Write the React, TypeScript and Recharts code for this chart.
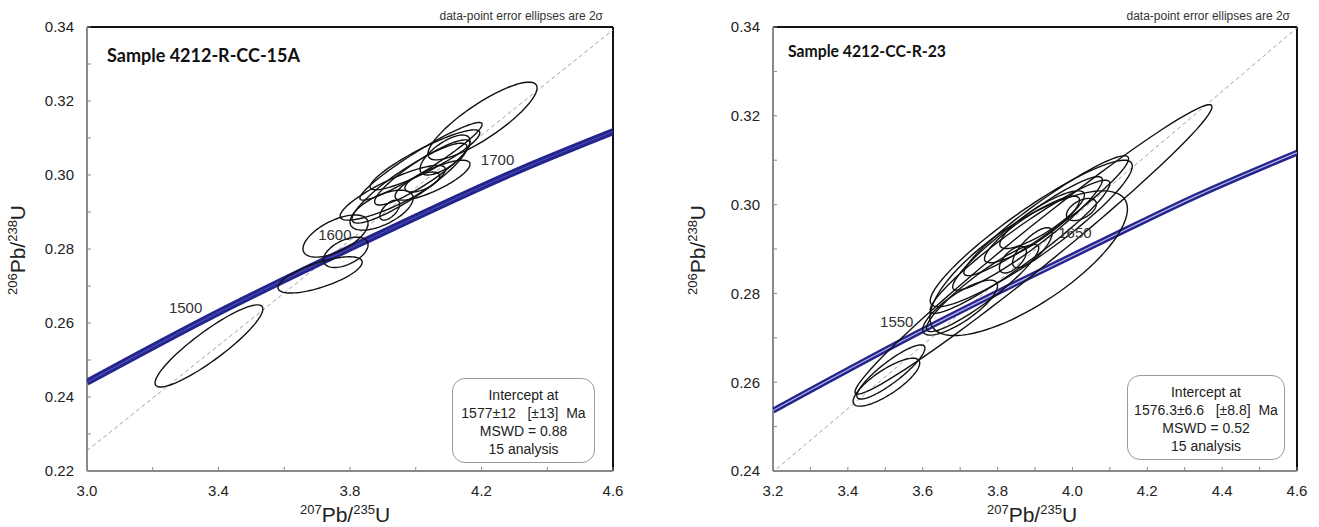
import React from "react";
import {
  ScatterChart,
  Scatter,
  XAxis,
  YAxis,
  ReferenceLine,
} from "recharts";

// error ellipses: centre, 2-sigma half widths, error correlation
type Ell = { x: number; y: number; sx: number; sy: number; rho: number };

const leftEllipses: Ell[] = [
  { x: 3.371, y: 0.2538, sx: 0.164, sy: 0.0111, rho: 0.9 },
  { x: 3.709, y: 0.273, sx: 0.128, sy: 0.0049, rho: 0.7 },
  { x: 3.756, y: 0.2835, sx: 0.099, sy: 0.0057, rho: 0.6 },
  { x: 3.787, y: 0.2791, sx: 0.068, sy: 0.0041, rho: 0.5 },
  { x: 3.896, y: 0.2905, sx: 0.096, sy: 0.0054, rho: 0.6 },
  { x: 3.981, y: 0.2978, sx: 0.175, sy: 0.0108, rho: 0.9 },
  { x: 4.203, y: 0.3146, sx: 0.166, sy: 0.0105, rho: 0.85 },
  { x: 4.016, y: 0.3037, sx: 0.186, sy: 0.0105, rho: 0.95 },
  { x: 4.028, y: 0.3041, sx: 0.167, sy: 0.0081, rho: 0.9 },
  { x: 4.02, y: 0.3007, sx: 0.145, sy: 0.0088, rho: 0.9 },
  { x: 3.921, y: 0.2905, sx: 0.03, sy: 0.0027, rho: 0.6 },
  { x: 4.02, y: 0.2981, sx: 0.053, sy: 0.0027, rho: 0.6 },
  { x: 3.93, y: 0.2952, sx: 0.16, sy: 0.0074, rho: 0.85 },
  { x: 4.051, y: 0.2986, sx: 0.114, sy: 0.0054, rho: 0.8 },
  { x: 4.089, y: 0.3054, sx: 0.076, sy: 0.0054, rho: 0.7 },
];

const rightEllipses: Ell[] = [
  { x: 3.503, y: 0.26, sx: 0.089, sy: 0.0054, rho: 0.8 },
  { x: 3.515, y: 0.2623, sx: 0.091, sy: 0.0061, rho: 0.88 },
  { x: 3.896, y: 0.2899, sx: 0.477, sy: 0.0326, rho: 0.985 },
  { x: 3.883, y: 0.2868, sx: 0.264, sy: 0.0163, rho: 0.75 },
  { x: 3.89, y: 0.2935, sx: 0.27, sy: 0.0165, rho: 0.92 },
  { x: 3.86, y: 0.2905, sx: 0.24, sy: 0.015, rho: 0.95 },
  { x: 3.7, y: 0.2768, sx: 0.1, sy: 0.0062, rho: 0.8 },
  { x: 3.76, y: 0.2812, sx: 0.15, sy: 0.0098, rho: 0.92 },
  { x: 3.841, y: 0.2876, sx: 0.036, sy: 0.003, rho: 0.6 },
  { x: 3.893, y: 0.2903, sx: 0.053, sy: 0.0045, rho: 0.75 },
  { x: 4.024, y: 0.2989, sx: 0.04, sy: 0.0025, rho: 0.5 },
  { x: 3.93, y: 0.2975, sx: 0.22, sy: 0.0135, rho: 0.95 },
  { x: 3.88, y: 0.2935, sx: 0.2, sy: 0.0128, rho: 0.94 },
  { x: 3.892, y: 0.2944, sx: 0.127, sy: 0.0075, rho: 0.88 },
  { x: 3.919, y: 0.2966, sx: 0.113, sy: 0.0065, rho: 0.85 },
];

const leftConcordia = [
  { x: 3.0, y: 0.244 },
  { x: 3.381, y: 0.262 },
  { x: 3.835, y: 0.2817 },
  { x: 4.33, y: 0.3019 },
  { x: 4.6, y: 0.3117 },
];
const rightConcordia = [
  { x: 3.2, y: 0.2536 },
  { x: 3.602, y: 0.2718 },
  { x: 3.835, y: 0.2817 },
  { x: 4.078, y: 0.2917 },
  { x: 4.33, y: 0.3019 },
  { x: 4.6, y: 0.3117 },
];

const leftAges = [
  { x: 3.381, y: 0.262, age: "1500" },
  { x: 3.835, y: 0.2817, age: "1600" },
  { x: 4.33, y: 0.3019, age: "1700" },
];
const rightAges = [
  { x: 3.602, y: 0.2718, age: "1550" },
  { x: 4.078, y: 0.2917, age: "1650" },
];

const leftDashed = [
  { x: 3.0, y: 0.2255 },
  { x: 4.6, y: 0.3392 },
];
const rightDashed = [
  { x: 3.21, y: 0.2405 },
  { x: 4.6, y: 0.3398 },
];

const leftXTicks = [3.0, 3.2, 3.4, 3.6, 3.8, 4.0, 4.2, 4.4, 4.6];
const leftXLabels = [3.0, 3.4, 3.8, 4.2, 4.6];
const rightXTicks = [3.2, 3.3, 3.4, 3.5, 3.6, 3.7, 3.8, 3.9, 4.0, 4.1, 4.2, 4.3, 4.4, 4.5, 4.6];
const rightXLabels = [3.2, 3.4, 3.6, 3.8, 4.0, 4.2, 4.4, 4.6];
const leftYTicks = [0.22, 0.23, 0.24, 0.25, 0.26, 0.27, 0.28, 0.29, 0.3, 0.31, 0.32, 0.33, 0.34];
const rightYTicks = [0.24, 0.25, 0.26, 0.27, 0.28, 0.29, 0.3, 0.31, 0.32, 0.33, 0.34];
const yLabels = [0.22, 0.24, 0.26, 0.28, 0.3, 0.32, 0.34];

const FONT = '"Liberation Sans", Arial, sans-serif';
const BLUE = "#24248f";

const ellipsePath = (e: Ell) => {
  const k = Math.sqrt(1 - e.rho * e.rho);
  const pts = [];
  for (let i = 0; i <= 90; i++) {
    const t = (i / 90) * Math.PI * 2;
    pts.push({
      x: e.x + e.sx * Math.cos(t),
      y: e.y + e.sy * (e.rho * Math.cos(t) + k * Math.sin(t)),
    });
  }
  return pts;
};

const has = (list: number[], v: number) => list.some((l) => Math.abs(l - v) < 1e-6);
const NoDot = () => <g />;

const makeYTick = (labels: number[]) => (props: any) => {
  const { x, y, payload } = props;
  return (
    <g>
      <line x1={x + 13} x2={x + 17} y1={y} y2={y} stroke="#888" strokeWidth={1} />
      {has(labels, payload.value) && (
        <text x={x} y={y} dy="0.36em" textAnchor="end" fontSize={15} fontFamily={FONT} fill="#222">
          {payload.value.toFixed(2)}
        </text>
      )}
    </g>
  );
};

const makeXTick = (labels: number[]) => (props: any) => {
  const { x, y, payload } = props;
  return (
    <g>
      <line x1={x} x2={x} y1={y - 14} y2={y - 18} stroke="#888" strokeWidth={1} />
      {has(labels, payload.value) && (
        <text x={x} y={y} dy="0.72em" textAnchor="middle" fontSize={15} fontFamily={FONT} fill="#222">
          {payload.value.toFixed(1)}
        </text>
      )}
    </g>
  );
};

const AgeLabel = (props: any) => {
  const { cx, cy, payload } = props;
  return (
    <text x={cx - 10} y={cy - 3} textAnchor="end" fontSize={15} fontFamily={FONT} fill="#333">
      {payload.age}
    </text>
  );
};

interface PanelProps {
  width: number;
  yAxisWidth: number;
  rightMargin: number;
  xDomain: [number, number];
  yDomain: [number, number];
  xTicks: number[];
  xLabels: number[];
  yTicks: number[];
  ellipses: Ell[];
  concordia: { x: number; y: number }[];
  ages: { x: number; y: number; age: string }[];
  dashed: { x: number; y: number }[];
  bandWidth: number;
  bandCenter: string;
}

const Panel: React.FC<PanelProps> = (p) => (
  <ScatterChart
    width={p.width}
    height={527}
    margin={{ top: 27, right: p.rightMargin, bottom: 26, left: 0 }}
  >
    <XAxis
      type="number"
      dataKey="x"
      domain={p.xDomain}
      ticks={p.xTicks}
      allowDataOverflow
      height={30}
      tickSize={0}
      tickMargin={14}
      tickLine={false}
      tick={makeXTick(p.xLabels)}
      axisLine={{ stroke: "#8a8a8a", strokeWidth: 2 }}
      interval={0}
    />
    <YAxis
      type="number"
      dataKey="y"
      domain={p.yDomain}
      ticks={p.yTicks}
      allowDataOverflow
      width={p.yAxisWidth}
      tickSize={0}
      tickMargin={13}
      tickLine={false}
      tick={makeYTick(yLabels)}
      axisLine={{ stroke: "#8a8a8a", strokeWidth: 2 }}
      interval={0}
    />
    <ReferenceLine y={p.yDomain[1]} stroke="#111" strokeWidth={2} />
    <ReferenceLine x={p.xDomain[1]} stroke="#111" strokeWidth={2} />
    <Scatter
      data={p.dashed}
      line={{ stroke: "#a0a0a0", strokeWidth: 1, strokeDasharray: "4 3" }}
      shape={NoDot}
      isAnimationActive={false}
    />
    <Scatter
      data={p.concordia}
      line={{ stroke: BLUE, strokeWidth: p.bandWidth }}
      lineJointType="monotoneX"
      shape={NoDot}
      isAnimationActive={false}
    />
    <Scatter
      data={p.concordia}
      line={{ stroke: p.bandCenter, strokeWidth: 1.2 }}
      lineJointType="monotoneX"
      shape={NoDot}
      isAnimationActive={false}
    />
    {p.ellipses.map((e, i) => (
      <Scatter
        key={i}
        data={ellipsePath(e)}
        line={{ stroke: "#111", strokeWidth: 1.4 }}
        shape={NoDot}
        isAnimationActive={false}
      />
    ))}
    <Scatter data={p.ages} shape={AgeLabel} isAnimationActive={false} />
  </ScatterChart>
);

const boxStyle = (left: number, top: number, w: number, h: number): React.CSSProperties => ({
  position: "absolute",
  left,
  top,
  width: w,
  height: h,
  boxSizing: "border-box",
  border: "1px solid #9a9a9a",
  borderRadius: 13,
  background: "#fff",
  fontFamily: FONT,
  fontSize: 14,
  lineHeight: "18px",
  color: "#222",
  textAlign: "center",
  whiteSpace: "pre",
  paddingTop: 7,
});

const IsoLabel = ({ a, b, x, y, rotate }: { a: string; b: string; x: number; y: number; rotate?: boolean }) => (
  <text
    transform={rotate ? `translate(${x},${y}) rotate(-90)` : `translate(${x},${y})`}
    textAnchor="middle"
    fontFamily={FONT}
    fill="#222"
    fontSize={21}
  >
    <tspan fontSize={13} dy={-8}>{a}</tspan>
    <tspan dy={8}>Pb/</tspan>
    <tspan fontSize={13} dy={-8}>{b}</tspan>
    <tspan dy={8}>U</tspan>
  </text>
);

export default function App() {
  return (
    <div style={{ position: "absolute", left: 0, top: 0, width: 1319, height: 527, background: "#fff" }}>
      <div style={{ position: "absolute", left: 0, top: 0 }}>
        <Panel
          width={640}
          yAxisWidth={87}
          rightMargin={27}
          xDomain={[3.0, 4.6]}
          yDomain={[0.22, 0.34]}
          xTicks={leftXTicks}
          xLabels={leftXLabels}
          yTicks={leftYTicks}
          ellipses={leftEllipses}
          concordia={leftConcordia}
          ages={leftAges}
          dashed={leftDashed}
          bandWidth={7}
          bandCenter="#4b4bb0"
        />
      </div>
      <div style={{ position: "absolute", left: 660, top: 0 }}>
        <Panel
          width={659}
          yAxisWidth={113}
          rightMargin={22}
          xDomain={[3.2, 4.6]}
          yDomain={[0.24, 0.34]}
          xTicks={rightXTicks}
          xLabels={rightXLabels}
          yTicks={rightYTicks}
          ellipses={rightEllipses}
          concordia={rightConcordia}
          ages={rightAges}
          dashed={rightDashed}
          bandWidth={6}
          bandCenter="#b9b9e2"
        />
      </div>
      <div style={boxStyle(452, 378, 143, 85)}>
        {"Intercept at\n1577±12   [±13]  Ma\nMSWD = 0.88\n15 analysis"}
      </div>
      <div style={boxStyle(1127, 375, 158, 85)}>
        {"Intercept at\n1576.3±6.6   [±8.8]  Ma\nMSWD = 0.52\n15 analysis"}
      </div>
      <svg
        width={1319}
        height={527}
        style={{ position: "absolute", left: 0, top: 0, pointerEvents: "none" }}
      >
        <text x={107} y={62} fontFamily="Lato, sans-serif" fontWeight={700} fontSize={19} fill="#111" textLength={193} lengthAdjust="spacingAndGlyphs">
          Sample 4212-R-CC-15A
        </text>
        <text x={788} y={57} fontFamily="Lato, sans-serif" fontWeight={700} fontSize={17} fill="#111" textLength={158} lengthAdjust="spacingAndGlyphs">
          Sample 4212-CC-R-23
        </text>
        <text x={603} y={20} textAnchor="end" fontFamily={FONT} fontSize={12} fill="#333">
          data-point error ellipses are 2σ
        </text>
        <text x={1290} y={20} textAnchor="end" fontFamily={FONT} fontSize={12} fill="#333">
          data-point error ellipses are 2σ
        </text>
        <IsoLabel a="207" b="235" x={345} y={522} />
        <IsoLabel a="207" b="235" x={1032} y={522} />
        <IsoLabel a="206" b="238" x={25} y={250} rotate />
        <IsoLabel a="206" b="238" x={705} y={250} rotate />
      </svg>
    </div>
  );
}
